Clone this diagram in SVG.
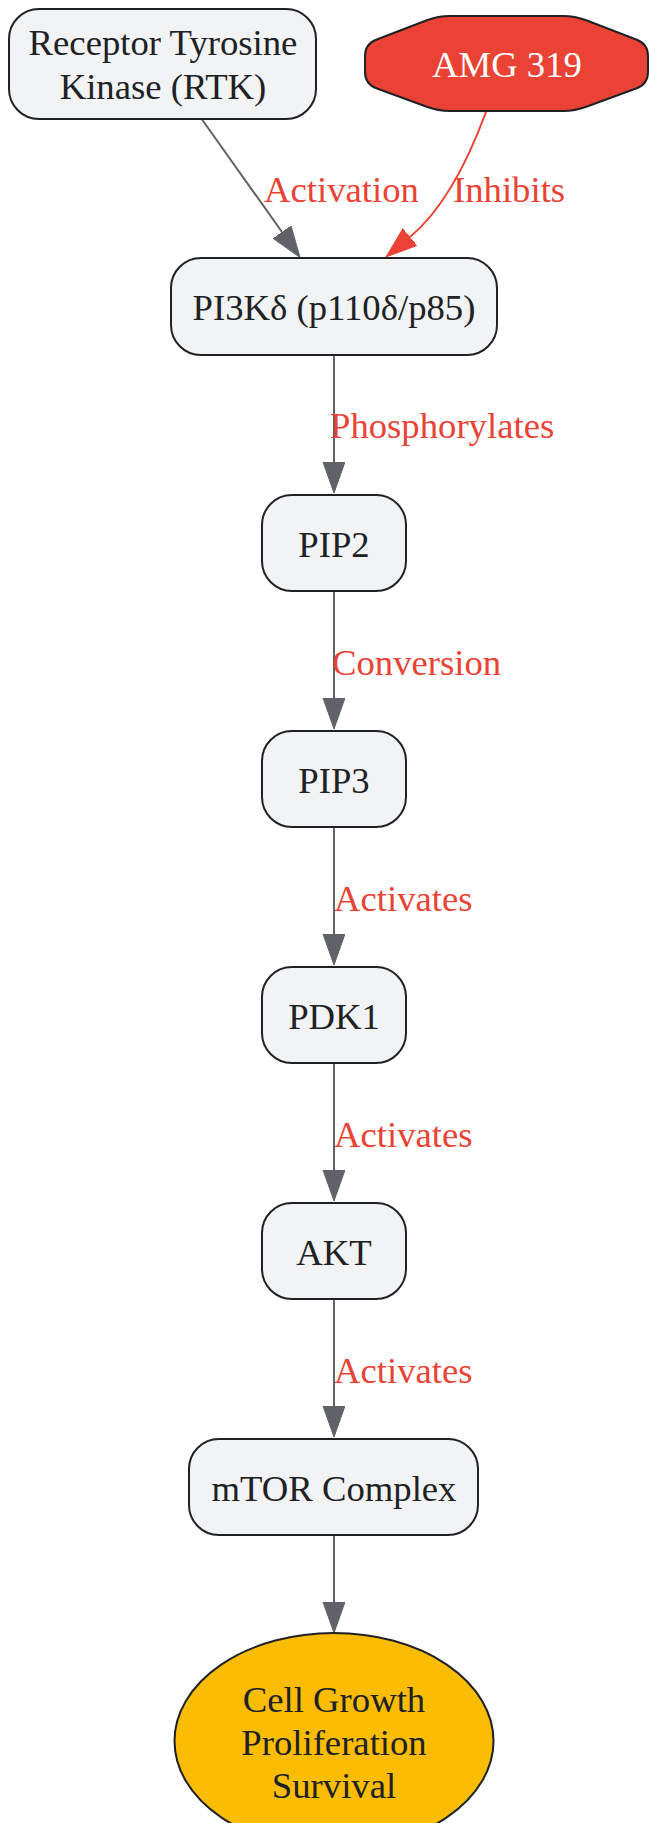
<svg xmlns="http://www.w3.org/2000/svg" width="649" height="1823" viewBox="0 0 649 1823">
<style>
text{font-family:"Liberation Serif","Times New Roman",serif;font-size:36.7px}
.box{fill:#F1F3F4;stroke:#202124;stroke-width:2}
.nt{fill:#202124;text-anchor:middle}
.el{fill:#EA4335}
.e{fill:none;stroke:#5F6368;stroke-width:2}
.er{fill:none;stroke:#EA4335;stroke-width:2}
</style>
<defs>
<marker id="ag" markerUnits="userSpaceOnUse" markerWidth="32" markerHeight="24" refX="0" refY="11" orient="auto" viewBox="0 0 32 24">
<path d="M0,0 L31,11 L0,22 Z" fill="#5F6368" stroke="#5F6368" stroke-width="1"/>
</marker>
<marker id="ar" markerUnits="userSpaceOnUse" markerWidth="32" markerHeight="24" refX="0" refY="11" orient="auto" viewBox="0 0 32 24">
<path d="M0,0 L31,11 L0,22 Z" fill="#EA4335" stroke="#EA4335" stroke-width="1"/>
</marker>
</defs>
<g id="edges">
<path class="e" d="M201,118 L282,232" marker-end="url(#ag)"/>
<path class="er" d="M486,112 C472,150 448.5,205 410,237" marker-end="url(#ar)"/>
<path class="e" d="M334,355 V462" marker-end="url(#ag)"/>
<path class="e" d="M334,591 V698" marker-end="url(#ag)"/>
<path class="e" d="M334,827 V934" marker-end="url(#ag)"/>
<path class="e" d="M334,1063 V1170" marker-end="url(#ag)"/>
<path class="e" d="M334,1299 V1406" marker-end="url(#ag)"/>
<path class="e" d="M334,1535 V1602" marker-end="url(#ag)"/>
<text class="el" x="264" y="202">Activation</text>
<text class="el" x="453" y="202">Inhibits</text>
<text class="el" x="330" y="438">Phosphorylates</text>
<text class="el" x="332" y="675">Conversion</text>
<text class="el" x="334" y="911">Activates</text>
<text class="el" x="334" y="1147">Activates</text>
<text class="el" x="334" y="1383">Activates</text>
</g>
<g id="rtk">
<rect class="box" x="9" y="9" width="307" height="110" rx="30"/>
<text class="nt" x="163" y="55">Receptor Tyrosine</text>
<text class="nt" x="163" y="99">Kinase (RTK)</text>
</g>
<g id="amg319">
<path d="M365,56 Q365,44 376.2,39.7 L426.8,20.3 Q438,16 450,16 L563,16 Q575,16 586.2,20.3 L636.8,39.7 Q648,44 648,56 L648,72 Q648,84 636.7,88.2 L586.3,106.8 Q575,111 563,111 L450,111 Q438,111 426.7,106.8 L376.3,88.2 Q365,84 365,72 Z" fill="#EA4335" stroke="#202124" stroke-width="2"/>
<text x="507" y="77" fill="#FFFFFF" text-anchor="middle">AMG 319</text>
</g>
<g id="pi3k">
<rect class="box" x="171" y="258" width="326" height="97" rx="30"/>
<text class="nt" x="334" y="320">PI3Kδ (p110δ/p85)</text>
</g>
<g id="pip2">
<rect class="box" x="262" y="495" width="144" height="96" rx="30"/>
<text class="nt" x="334" y="557">PIP2</text>
</g>
<g id="pip3">
<rect class="box" x="262" y="731" width="144" height="96" rx="30"/>
<text class="nt" x="334" y="793">PIP3</text>
</g>
<g id="pdk1">
<rect class="box" x="262" y="967" width="144" height="96" rx="30"/>
<text class="nt" x="334" y="1029">PDK1</text>
</g>
<g id="akt">
<rect class="box" x="262" y="1203" width="144" height="96" rx="30"/>
<text class="nt" x="334" y="1265">AKT</text>
</g>
<g id="mtor">
<rect class="box" x="189" y="1439" width="289" height="96" rx="30"/>
<text class="nt" x="334" y="1501">mTOR Complex</text>
</g>
<g id="outcome">
<ellipse cx="334" cy="1741" rx="159.5" ry="108" fill="#FBBC04" stroke="#202124" stroke-width="2"/>
<text class="nt" x="334" y="1712">Cell Growth</text>
<text class="nt" x="334" y="1755">Proliferation</text>
<text class="nt" x="334" y="1798">Survival</text>
</g>
</svg>
